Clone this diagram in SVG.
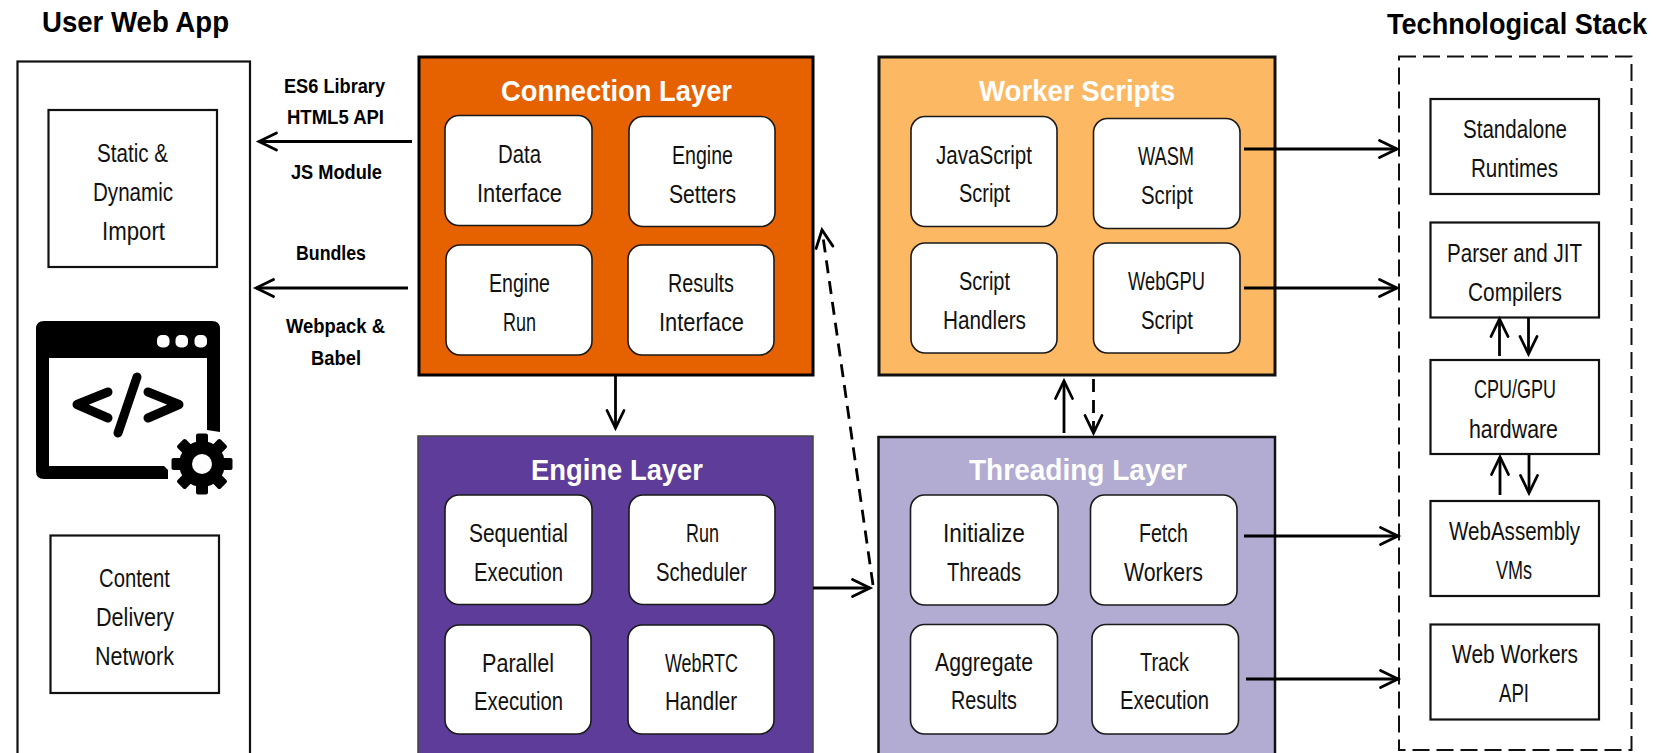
<svg xmlns="http://www.w3.org/2000/svg" width="1664" height="753" viewBox="0 0 1664 753">
<style>
text{font-family:"Liberation Sans Narrow","Liberation Sans",Arial,sans-serif;fill:#111}
.t{font-size:26px;letter-spacing:0}
.h{font-size:30px;font-weight:bold;fill:#000}
.w{font-size:30px;font-weight:bold;fill:#fff}
.s{font-size:20px;font-weight:bold;fill:#000}
.box{fill:#fff;stroke:#111;stroke-width:2.2}
.card{fill:#fff;stroke:#1a1a1a;stroke-width:1.6}
.c{fill:none;stroke:#000;stroke-width:2.8}
.d{stroke-dasharray:13 8}
</style>
<defs>
<marker id="a" markerUnits="userSpaceOnUse" markerWidth="24" markerHeight="24" refX="20" refY="12" orient="auto" overflow="visible">
<path d="M2.5,3.5 L20,12 L2.5,20.5" fill="none" stroke="#000" stroke-width="2.8" stroke-linecap="round"/>
</marker>
</defs>
<rect width="1664" height="753" fill="#fff"/>

<g id="user-web-app">
<rect x="17.5" y="61.5" width="232.5" height="710" fill="#fff" stroke="#111" stroke-width="2.2"/>
<text class="h" x="42" y="32" textLength="187" lengthAdjust="spacingAndGlyphs">User Web App</text>
</g>
<g id="static-import">
<rect class="box" x="48.5" y="110" width="168.5" height="157"/>
<text class="t" x="97" y="162" textLength="71" lengthAdjust="spacingAndGlyphs">Static &amp;</text>
<text class="t" x="93" y="201" textLength="80" lengthAdjust="spacingAndGlyphs">Dynamic</text>
<text class="t" x="102" y="240" textLength="63" lengthAdjust="spacingAndGlyphs">Import</text>
</g>
<g id="code-icon">
<path fill="#000" d="M44,321 H212 Q220,321 220,329 V432 L207,430 V358 H49 V466 H164 L168,470 V479 H44 Q36,479 36,471 V329 Q36,321 44,321 Z"/>
<g fill="#fff"><rect x="157" y="335" width="12.5" height="12.5" rx="5"/><rect x="175.500" y="335" width="12.5" height="12.5" rx="5"/><rect x="194.500" y="335" width="12.5" height="12.5" rx="5"/></g>
<g fill="none" stroke="#000" stroke-width="9" stroke-linecap="round" stroke-linejoin="round">
<path d="M137,377 L118,433"/><path d="M108,392 L77,404.500 L108,418"/><path d="M148,392 L179,404.500 L148,418"/>
</g>
<g id="gear" transform="translate(202,464)">
<circle r="23" fill="#000"/>
<g fill="#000"><rect x="-6" y="-30.500" width="12" height="14" rx="2"/>
<rect x="-6" y="-30.500" width="12" height="14" rx="2" transform="rotate(45)"/>
<rect x="-6" y="-30.500" width="12" height="14" rx="2" transform="rotate(90)"/>
<rect x="-6" y="-30.500" width="12" height="14" rx="2" transform="rotate(135)"/>
<rect x="-6" y="-30.500" width="12" height="14" rx="2" transform="rotate(180)"/>
<rect x="-6" y="-30.500" width="12" height="14" rx="2" transform="rotate(225)"/>
<rect x="-6" y="-30.500" width="12" height="14" rx="2" transform="rotate(270)"/>
<rect x="-6" y="-30.500" width="12" height="14" rx="2" transform="rotate(315)"/></g>
<circle r="10" fill="#fff"/>
</g>
</g>
<g id="cdn">
<rect class="box" x="50.500" y="535.500" width="168.500" height="157.500"/>
<text class="t" x="99" y="587" textLength="71" lengthAdjust="spacingAndGlyphs">Content</text>
<text class="t" x="96" y="626" textLength="78" lengthAdjust="spacingAndGlyphs">Delivery</text>
<text class="t" x="95" y="665" textLength="79" lengthAdjust="spacingAndGlyphs">Network</text>
</g>

<g id="connection-layer">
<rect x="419" y="57" width="394" height="318" fill="#E66100" stroke="#000" stroke-width="3"/>
<text class="w" x="501" y="101" textLength="231" lengthAdjust="spacingAndGlyphs">Connection Layer</text>
</g>
<g id="data-interface"><rect class="card" x="445" y="115.500" width="147" height="110" rx="14"/>
<text class="t" x="498" y="163" textLength="43" lengthAdjust="spacingAndGlyphs">Data</text>
<text class="t" x="477" y="202" textLength="85" lengthAdjust="spacingAndGlyphs">Interface</text></g>
<g id="engine-setters"><rect class="card" x="629" y="116.500" width="146" height="110" rx="14"/>
<text class="t" x="672" y="164" textLength="61" lengthAdjust="spacingAndGlyphs">Engine</text>
<text class="t" x="669" y="203" textLength="67" lengthAdjust="spacingAndGlyphs">Setters</text></g>
<g id="engine-run"><rect class="card" x="446" y="245" width="146" height="110" rx="14"/>
<text class="t" x="489" y="292" textLength="61" lengthAdjust="spacingAndGlyphs">Engine</text>
<text class="t" x="503" y="331" textLength="33" lengthAdjust="spacingAndGlyphs">Run</text></g>
<g id="results-interface"><rect class="card" x="628" y="245" width="146" height="110" rx="14"/>
<text class="t" x="668" y="292" textLength="66" lengthAdjust="spacingAndGlyphs">Results</text>
<text class="t" x="659" y="331" textLength="85" lengthAdjust="spacingAndGlyphs">Interface</text></g>

<g id="engine-layer">
<rect x="418" y="436" width="395" height="340" fill="#5E3C99" stroke="#444" stroke-width="1.500"/>
<text class="w" x="531" y="480" textLength="172" lengthAdjust="spacingAndGlyphs">Engine Layer</text>
</g>
<g id="sequential"><rect class="card" x="445" y="495" width="147" height="109.500" rx="14"/>
<text class="t" x="469" y="542" textLength="99" lengthAdjust="spacingAndGlyphs">Sequential</text>
<text class="t" x="474" y="581" textLength="89" lengthAdjust="spacingAndGlyphs">Execution</text></g>
<g id="scheduler"><rect class="card" x="629" y="495" width="146" height="109.500" rx="14"/>
<text class="t" x="686" y="542" textLength="33" lengthAdjust="spacingAndGlyphs">Run</text>
<text class="t" x="656" y="581" textLength="91" lengthAdjust="spacingAndGlyphs">Scheduler</text></g>
<g id="parallel"><rect class="card" x="445" y="625" width="146" height="109" rx="14"/>
<text class="t" x="482" y="672" textLength="72" lengthAdjust="spacingAndGlyphs">Parallel</text>
<text class="t" x="474" y="710" textLength="89" lengthAdjust="spacingAndGlyphs">Execution</text></g>
<g id="webrtc"><rect class="card" x="628" y="625" width="146" height="109" rx="14"/>
<text class="t" x="665" y="672" textLength="73" lengthAdjust="spacingAndGlyphs">WebRTC</text>
<text class="t" x="665" y="710" textLength="72" lengthAdjust="spacingAndGlyphs">Handler</text></g>

<g id="worker-scripts">
<rect x="879" y="57" width="396" height="318" fill="#FDB863" stroke="#111" stroke-width="3"/>
<text class="w" x="979" y="101" textLength="196" lengthAdjust="spacingAndGlyphs">Worker Scripts</text>
</g>
<g id="js-script"><rect class="card" x="911" y="116.500" width="146" height="110" rx="14"/>
<text class="t" x="936" y="164" textLength="96" lengthAdjust="spacingAndGlyphs">JavaScript</text>
<text class="t" x="959" y="202" textLength="51" lengthAdjust="spacingAndGlyphs">Script</text></g>
<g id="wasm-script"><rect class="card" x="1093.500" y="118.500" width="146.500" height="110" rx="14"/>
<text class="t" x="1138" y="165" textLength="56" lengthAdjust="spacingAndGlyphs">WASM</text>
<text class="t" x="1141" y="204" textLength="52" lengthAdjust="spacingAndGlyphs">Script</text></g>
<g id="script-handlers"><rect class="card" x="911" y="243" width="146" height="110" rx="14"/>
<text class="t" x="959" y="290" textLength="51" lengthAdjust="spacingAndGlyphs">Script</text>
<text class="t" x="943" y="329" textLength="83" lengthAdjust="spacingAndGlyphs">Handlers</text></g>
<g id="webgpu-script"><rect class="card" x="1093.500" y="243" width="146.500" height="110" rx="14"/>
<text class="t" x="1128" y="290" textLength="77" lengthAdjust="spacingAndGlyphs">WebGPU</text>
<text class="t" x="1141" y="329" textLength="52" lengthAdjust="spacingAndGlyphs">Script</text></g>

<g id="threading-layer">
<rect x="878.500" y="437" width="396.500" height="340" fill="#B2ABD2" stroke="#111" stroke-width="2.500"/>
<text class="w" x="969" y="480" textLength="218" lengthAdjust="spacingAndGlyphs">Threading Layer</text>
</g>
<g id="init-threads"><rect class="card" x="910.500" y="495" width="147.500" height="110" rx="14"/>
<text class="t" x="943" y="542" textLength="82" lengthAdjust="spacingAndGlyphs">Initialize</text>
<text class="t" x="947" y="581" textLength="74" lengthAdjust="spacingAndGlyphs">Threads</text></g>
<g id="fetch-workers"><rect class="card" x="1090.500" y="495" width="146.500" height="110" rx="14"/>
<text class="t" x="1139" y="542" textLength="49" lengthAdjust="spacingAndGlyphs">Fetch</text>
<text class="t" x="1124" y="581" textLength="79" lengthAdjust="spacingAndGlyphs">Workers</text></g>
<g id="aggregate"><rect class="card" x="910.500" y="624.500" width="147" height="109.500" rx="14"/>
<text class="t" x="935" y="671" textLength="98" lengthAdjust="spacingAndGlyphs">Aggregate</text>
<text class="t" x="951" y="709" textLength="66" lengthAdjust="spacingAndGlyphs">Results</text></g>
<g id="track"><rect class="card" x="1092" y="624.500" width="146.500" height="109.500" rx="14"/>
<text class="t" x="1140" y="671" textLength="49" lengthAdjust="spacingAndGlyphs">Track</text>
<text class="t" x="1120" y="709" textLength="89" lengthAdjust="spacingAndGlyphs">Execution</text></g>

<g id="tech-stack">
<rect x="1399" y="56.500" width="232.500" height="693.500" fill="none" stroke="#111" stroke-width="2" stroke-dasharray="17 7"/>
<text class="h" transform="translate(1387,34) scale(0.85,1)" x="0" y="0" textLength="306" lengthAdjust="spacingAndGlyphs">Technological Stack</text>
</g>
<g id="standalone"><rect class="box" x="1430.500" y="99" width="168.500" height="95"/>
<text class="t" x="1463" y="138" textLength="104" lengthAdjust="spacingAndGlyphs">Standalone</text>
<text class="t" x="1471" y="177" textLength="87" lengthAdjust="spacingAndGlyphs">Runtimes</text></g>
<g id="parser-jit"><rect class="box" x="1430.500" y="222.500" width="168.500" height="95"/>
<text class="t" x="1447" y="262" textLength="135" lengthAdjust="spacingAndGlyphs">Parser and JIT</text>
<text class="t" x="1468" y="301" textLength="94" lengthAdjust="spacingAndGlyphs">Compilers</text></g>
<g id="cpu-gpu"><rect class="box" x="1430.500" y="360" width="168.500" height="94"/>
<text class="t" x="1474" y="398" textLength="82" lengthAdjust="spacingAndGlyphs">CPU/GPU</text>
<text class="t" x="1469" y="438" textLength="89" lengthAdjust="spacingAndGlyphs">hardware</text></g>
<g id="wasm-vms"><rect class="box" x="1430.500" y="501" width="168.500" height="95"/>
<text class="t" x="1449" y="540" textLength="131" lengthAdjust="spacingAndGlyphs">WebAssembly</text>
<text class="t" x="1496" y="579" textLength="36" lengthAdjust="spacingAndGlyphs">VMs</text></g>
<g id="web-workers"><rect class="box" x="1430.500" y="624.500" width="168.500" height="95"/>
<text class="t" x="1452" y="663" textLength="126" lengthAdjust="spacingAndGlyphs">Web Workers</text>
<text class="t" x="1499" y="702" textLength="30" lengthAdjust="spacingAndGlyphs">API</text></g>

<g id="connectors">
<path class="c" marker-end="url(#a)" d="M412,141.500 H259"/>
<path class="c" marker-end="url(#a)" d="M408,288 H256"/>
<path class="c" marker-end="url(#a)" d="M615.500,375 V428"/>
<path class="c d" marker-end="url(#a)" d="M873,585 L822,230"/>
<path class="c" marker-end="url(#a)" d="M813,588 H870"/>
<path class="c" marker-end="url(#a)" d="M1064,433 V381"/>
<path class="c d" marker-end="url(#a)" d="M1093.500,379 V433"/>
<path class="c" marker-end="url(#a)" d="M1244,149 H1397"/>
<path class="c" marker-end="url(#a)" d="M1244,288 H1397"/>
<path class="c" marker-end="url(#a)" d="M1244,536 H1398"/>
<path class="c" marker-end="url(#a)" d="M1246,679 H1398"/>
<path class="c" marker-end="url(#a)" d="M1499.500,356 V319"/>
<path class="c" marker-end="url(#a)" d="M1528.500,318 V354"/>
<path class="c" marker-end="url(#a)" d="M1500,495 V457"/>
<path class="c" marker-end="url(#a)" d="M1529,455 V493"/>
</g>
<g id="connector-labels">
<text class="s" x="284" y="93" textLength="101" lengthAdjust="spacingAndGlyphs">ES6 Library</text>
<text class="s" x="287" y="124" textLength="97" lengthAdjust="spacingAndGlyphs">HTML5 API</text>
<text class="s" x="291" y="179" textLength="91" lengthAdjust="spacingAndGlyphs">JS Module</text>
<text class="s" x="296" y="260" textLength="70" lengthAdjust="spacingAndGlyphs">Bundles</text>
<text class="s" x="286" y="333" textLength="99" lengthAdjust="spacingAndGlyphs">Webpack &amp;</text>
<text class="s" x="311" y="365" textLength="50" lengthAdjust="spacingAndGlyphs">Babel</text>
</g>
</svg>
